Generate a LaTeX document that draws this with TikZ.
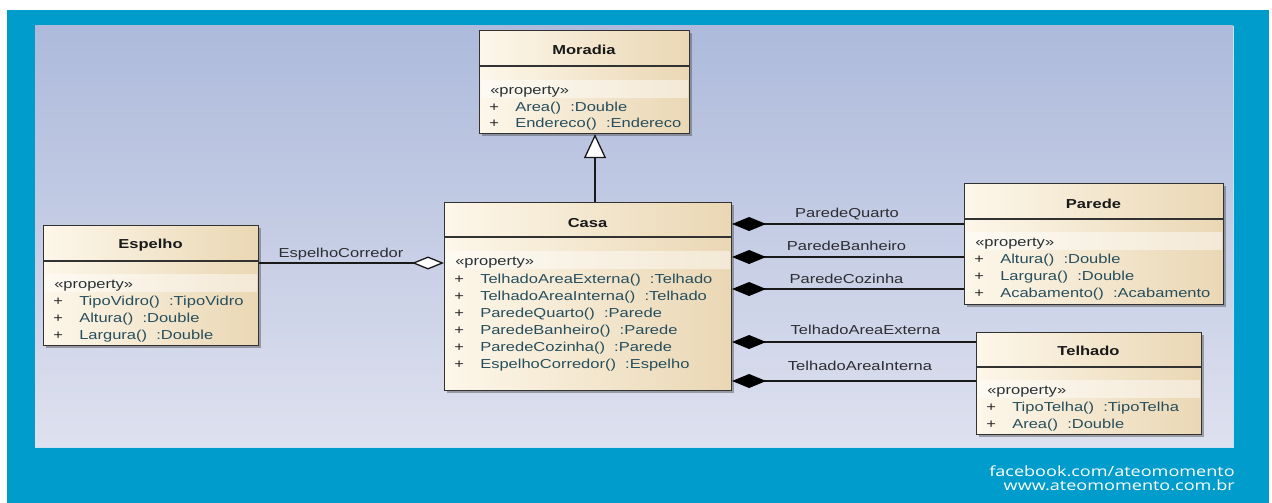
\documentclass[tikz,border=0pt]{standalone}
\usepackage{fontspec}
\setmainfont{Liberation Sans}
\newfontfamily\footfont{Open Sans}
\usetikzlibrary{arrows.meta,shadows}

\definecolor{bgteal}{RGB}{0,157,204}
\definecolor{paneltop}{RGB}{173,186,219}
\definecolor{panelbot}{RGB}{222,225,239}
\definecolor{paneledge}{RGB}{200,226,242}
\definecolor{boxlight}{RGB}{253,247,234}
\definecolor{boxdark}{RGB}{234,215,180}
\definecolor{boxline}{RGB}{50,50,50}
\definecolor{attrcol}{RGB}{38,78,92}
\definecolor{propcol}{RGB}{40,48,52}
\definecolor{lblcol}{RGB}{45,45,50}

% one UML class: name, x1, y1, x2, y2, header-line y, title, title baseline
\newcommand{\umlclass}[8]{%
  \node[classbox, minimum width={#4-#2}, minimum height={#5-#3}] (#1) at (#2,#3) {};
  \draw[boxline, line width=1.1pt] (#2,#6) -- (#4,#6);
  \node[titletxt] (#1-title) at ({(#2+#4)/2},#8) {#7};
}
% the light stereotype strip and its «property» text: name, x1, x2, baseline
\newcommand{\umlprop}[4]{%
  \fill[white, opacity=.45] (#2+1.5,#4-14) rectangle (#3-1.5,#4+4);
  \node[proptxt] (#1) at (#2+11,#4) {«property»};
}
% one attribute row: name, box left x, baseline, text
\newcommand{\umlattr}[4]{%
  \node[plustxt] (#1-vis) at (#2+10,#3) {+};
  \node[attrtxt] (#1) at (#2+36,#3) {#4};
}

\begin{document}
\begin{tikzpicture}[x=1pt,y=-1pt,
  classbox/.style={draw=boxline, line width=1.1pt, left color=boxlight,
    right color=boxdark, inner sep=0pt, anchor=north west,
    drop shadow={shadow xshift=2.5pt, shadow yshift=-2.5pt, opacity=.45, fill=black!70}},
  basetxt/.style={font=\fontsize{13}{15}\selectfont, xscale=1.27, inner sep=0pt},
  titletxt/.style={basetxt, font=\fontsize{13}{15}\selectfont\bfseries, anchor=base, text=black!90},
  proptxt/.style={basetxt, anchor=base west, text=propcol},
  plustxt/.style={basetxt, anchor=base west, text=black!85},
  attrtxt/.style={basetxt, anchor=base west, text=attrcol},
  lbl/.style={basetxt, anchor=base, text=lblcol},
  conn/.style={draw=black!90, line width=1.3pt},
  comp/.style={conn, -{Diamond[length=34pt, width=14pt, fill=black, color=black]}},
  agg/.style={conn, -{Diamond[length=32pt, width=13pt, fill=white]}},
  gen/.style={conn, -{Triangle[length=24pt, width=22pt, fill=white]}},
  foot/.style={font=\footfont\fontsize{14}{16}\selectfont, xscale=1.29, inner sep=0pt,
    anchor=base east, text=white}
]
\useasboundingbox (0,0) rectangle (1272,503);

% frame and panel
\fill[white] (0,0) rectangle (1272,503);
\fill[bgteal] (7,10) rectangle (1269,503);
\shade[top color=paneltop, bottom color=panelbot] (35,26) rectangle (1233,447);
\draw[paneledge, line width=1pt] (35,447) -- (1233,447) -- (1233,26);

% Moradia
\umlclass{moradia}{479}{30}{689}{133}{66}{Moradia}{55}
\umlprop{moradia-prop}{479}{689}{94}
\umlattr{moradia-a1}{479}{111}{Area()\ \ :Double}
\umlattr{moradia-a2}{479}{128}{Endereco()\ \ :Endereco}

% Casa
\umlclass{casa}{444}{202}{731}{390}{237}{Casa}{227}
\umlprop{casa-prop}{444}{731}{265}
\umlattr{casa-a1}{444}{283}{TelhadoAreaExterna()\ \ :Telhado}
\umlattr{casa-a2}{444}{300}{TelhadoAreaInterna()\ \ :Telhado}
\umlattr{casa-a3}{444}{317}{ParedeQuarto()\ \ :Parede}
\umlattr{casa-a4}{444}{334}{ParedeBanheiro()\ \ :Parede}
\umlattr{casa-a5}{444}{351}{ParedeCozinha()\ \ :Parede}
\umlattr{casa-a6}{444}{368}{EspelhoCorredor()\ \ :Espelho}

% Espelho
\umlclass{espelho}{43}{225}{258}{345}{261}{Espelho}{248}
\umlprop{espelho-prop}{43}{258}{288}
\umlattr{espelho-a1}{43}{305}{TipoVidro()\ \ :TipoVidro}
\umlattr{espelho-a2}{43}{322}{Altura()\ \ :Double}
\umlattr{espelho-a3}{43}{339}{Largura()\ \ :Double}

% Parede
\umlclass{parede}{964}{183}{1223}{304}{219}{Parede}{208}
\umlprop{parede-prop}{964}{1223}{246}
\umlattr{parede-a1}{964}{263}{Altura()\ \ :Double}
\umlattr{parede-a2}{964}{280}{Largura()\ \ :Double}
\umlattr{parede-a3}{964}{297}{Acabamento()\ \ :Acabamento}

% Telhado
\umlclass{telhado}{976}{332}{1201}{434}{367}{Telhado}{355}
\umlprop{telhado-prop}{976}{1201}{394}
\umlattr{telhado-a1}{976}{411}{TipoTelha()\ \ :TipoTelha}
\umlattr{telhado-a2}{976}{428}{Area()\ \ :Double}

% generalization
\draw[gen] (casa.north -| 595,0) -- (moradia.south -| 595,0);

% aggregation
\draw[agg] (espelho.east |- 0,263) -- (casa.west |- 0,263);
\node[lbl] (l-esp) at (341,257) {EspelhoCorredor};

% compositions
\draw[comp] (parede.west |- 0,224) -- (casa.east |- 0,224);
\draw[comp] (parede.west |- 0,257) -- (casa.east |- 0,257);
\draw[comp] (parede.west |- 0,289) -- (casa.east |- 0,289);
\draw[comp] (telhado.west |- 0,342) -- (casa.east |- 0,342);
\draw[comp] (telhado.west |- 0,381) -- (casa.east |- 0,381);
\node[lbl] (l-pq) at (847,217) {ParedeQuarto};
\node[lbl] (l-pb) at (846.5,250) {ParedeBanheiro};
\node[lbl] (l-pc) at (846.5,283) {ParedeCozinha};
\node[lbl] (l-te) at (865.5,334) {TelhadoAreaExterna};
\node[lbl] (l-ti) at (860,370) {TelhadoAreaInterna};

% footer
\node[foot] (fb) at (1235,476) {facebook.com/ateomomento};
\node[foot] (www) at (1235,490) {www.ateomomento.com.br};
\end{tikzpicture}
\end{document}
